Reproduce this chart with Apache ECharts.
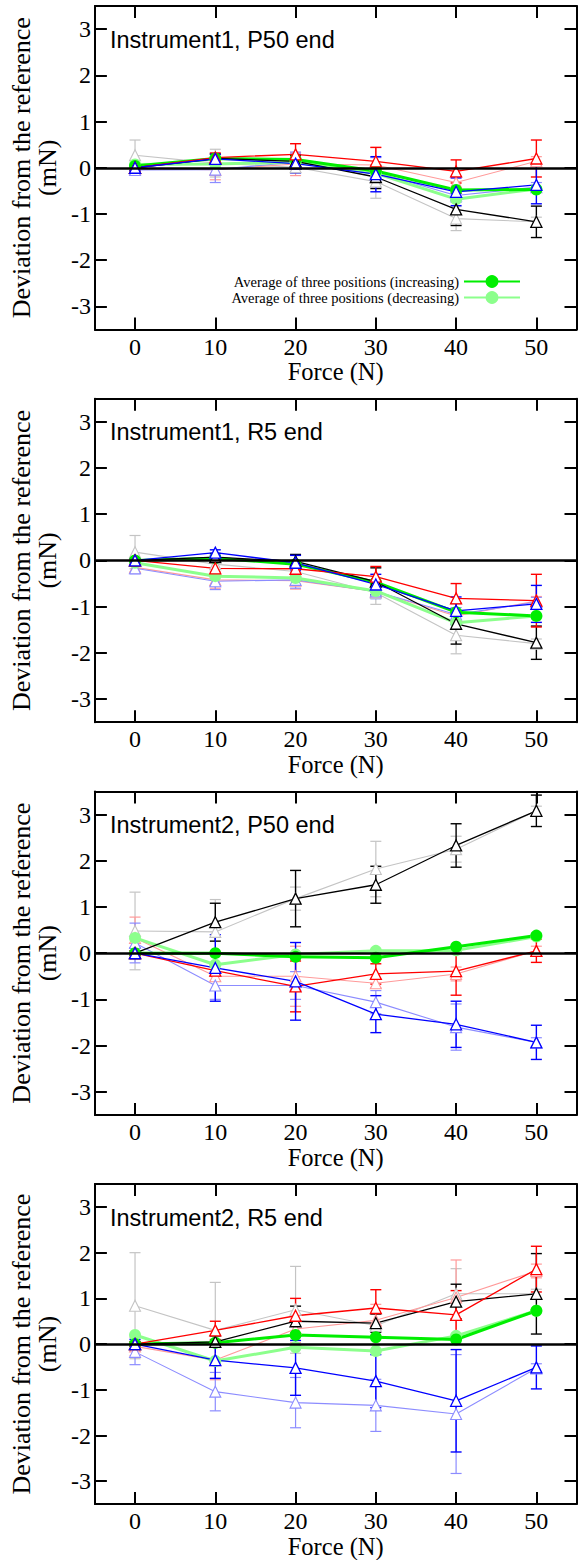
<!DOCTYPE html>
<html><head><meta charset="utf-8">
<script src="https://cdn.jsdelivr.net/npm/echarts@6/dist/echarts.min.js"></script>
<style>html,body{margin:0;padding:0;background:#fff}#c{width:581px;height:1560px}</style>
</head><body><div id="c"></div>
<script>
// ---------------- data ----------------
const forces = [0, 10, 20, 30, 40, 50];
const xTicks = [0, 10, 20, 30, 40, 50];
const yTicks = [-3, -2, -1, 0, 1, 2, 3];
const panelTitles = ['Instrument1, P50 end', 'Instrument1, R5 end', 'Instrument2, P50 end', 'Instrument2, R5 end'];
const legendNames = ['Average of three positions (increasing)', 'Average of three positions (decreasing)'];

// Panel 1: Instrument1, P50 end
const p1BlackUp = [0.00, 0.20, 0.14, -0.20, -0.90, -1.17];
const p1BlackUpErr = [0.06, 0.10, 0.12, 0.25, 0.35, 0.34];
const p1BlackDown = [0.27, 0.10, 0.01, -0.30, -1.10, -1.17];
const p1BlackDownErr = [0.33, 0.30, 0.12, 0.36, 0.26, 0.10];
const p1RedUp = [0.00, 0.22, 0.29, 0.14, -0.08, 0.20];
const p1RedUpErr = [0.05, 0.10, 0.23, 0.30, 0.25, 0.40];
const p1RedDown = [-0.02, -0.04, 0.08, 0.06, -0.32, 0.14];
const p1RedDownErr = [0.08, 0.22, 0.25, 0.38, 0.12, 0.10];
const p1BlueUp = [0.00, 0.19, 0.09, -0.14, -0.52, -0.37];
const p1BlueUpErr = [0.06, 0.10, 0.20, 0.38, 0.30, 0.41];
const p1BlueDown = [-0.05, -0.04, 0.12, -0.10, -0.60, -0.42];
const p1BlueDownErr = [0.08, 0.28, 0.22, 0.32, 0.15, 0.10];
const p1GreenUp = [0.04, 0.20, 0.18, -0.07, -0.48, -0.47];
const p1GreenDown = [0.07, 0.08, 0.12, -0.12, -0.68, -0.46];

// Panel 2: Instrument1, R5 end
const p2BlackUp = [0.00, 0.07, -0.02, -0.46, -1.37, -1.78];
const p2BlackUpErr = [0.05, 0.08, 0.15, 0.30, 0.44, 0.36];
const p2BlackDown = [0.18, -0.08, -0.24, -0.70, -1.62, -1.80];
const p2BlackDownErr = [0.36, 0.10, 0.12, 0.25, 0.40, 0.10];
const p2RedUp = [0.00, -0.17, -0.18, -0.35, -0.82, -0.87];
const p2RedUpErr = [0.05, 0.18, 0.15, 0.22, 0.32, 0.57];
const p2RedDown = [-0.15, -0.42, -0.44, -0.67, -1.20, -0.88];
const p2RedDownErr = [0.10, 0.18, 0.18, 0.15, 0.12, 0.10];
const p2BlueUp = [0.00, 0.17, -0.05, -0.52, -1.09, -0.94];
const p2BlueUpErr = [0.05, 0.06, 0.16, 0.22, 0.30, 0.40];
const p2BlueDown = [-0.17, -0.45, -0.42, -0.67, -1.17, -0.90];
const p2BlueDownErr = [0.12, 0.18, 0.18, 0.16, 0.15, 0.10];
const p2GreenUp = [0.00, 0.05, -0.08, -0.47, -1.12, -1.20];
const p2GreenDown = [-0.05, -0.34, -0.38, -0.66, -1.35, -1.20];

// Panel 3: Instrument2, P50 end
const p3BlackUp = [0.00, 0.67, 1.18, 1.48, 2.33, 3.08];
const p3BlackUpErr = [0.05, 0.41, 0.61, 0.40, 0.47, 0.34];
const p3BlackDown = [0.48, 0.46, 1.18, 1.82, 2.25, 3.08];
const p3BlackDownErr = [0.84, 0.70, 0.25, 0.60, 0.28, 0.10];
const p3RedUp = [0.00, -0.38, -0.72, -0.45, -0.39, 0.05];
const p3RedUpErr = [0.05, 0.12, 0.55, 0.22, 0.52, 0.25];
const p3RedDown = [0.33, -0.50, -0.50, -0.65, -0.45, 0.05];
const p3RedDownErr = [0.45, 0.10, 0.65, 0.10, 0.15, 0.10];
const p3BlueUp = [0.00, -0.32, -0.61, -1.32, -1.54, -1.93];
const p3BlueUpErr = [0.12, 0.72, 0.84, 0.40, 0.50, 0.37];
const p3BlueDown = [0.22, -0.70, -0.70, -1.06, -1.60, -1.93];
const p3BlueDownErr = [0.43, 0.30, 0.30, 0.25, 0.50, 0.10];
const p3GreenUp = [0.00, 0.00, -0.08, -0.10, 0.14, 0.38];
const p3GreenDown = [0.33, -0.25, -0.03, 0.05, 0.06, 0.36];

// Panel 4: Instrument2, R5 end
const p4BlackUp = [0.00, 0.05, 0.50, 0.46, 0.93, 1.10];
const p4BlackUpErr = [0.05, 0.12, 0.33, 0.20, 0.38, 0.88];
const p4BlackDown = [0.84, 0.30, 0.75, 0.40, 1.10, 1.10];
const p4BlackDownErr = [1.16, 1.05, 0.95, 0.25, 0.55, 0.10];
const p4RedUp = [0.00, 0.30, 0.62, 0.79, 0.64, 1.64];
const p4RedUpErr = [0.05, 0.20, 0.38, 0.40, 0.53, 0.50];
const p4RedDown = [-0.05, -0.35, 0.33, 0.52, 1.02, 1.60];
const p4RedDownErr = [0.20, 0.43, 0.30, 0.35, 0.82, 0.15];
const p4BlueUp = [0.00, -0.35, -0.52, -0.81, -1.24, -0.51];
const p4BlueUpErr = [0.10, 0.40, 0.60, 0.58, 1.12, 0.47];
const p4BlueDown = [-0.17, -1.04, -1.28, -1.34, -1.53, -0.53];
const p4BlueDownErr = [0.28, 0.42, 0.55, 0.57, 1.30, 0.10];
const p4GreenUp = [0.00, 0.03, 0.20, 0.15, 0.10, 0.73];
const p4GreenDown = [0.20, -0.37, -0.07, -0.15, 0.18, 0.73];

// ---------------- layout / style ----------------
const C = {
  black: '#000000', grey: '#c4c4c4',
  red: '#ff0000', lred: '#ff9a9a',
  blue: '#0000ff', lblue: '#8c8cff',
  green: '#00ee00', lgreen: '#8cff8c'
};
const GRID_LEFT = 89.5, GRID_RIGHT = 4.5, GRID_TOP0 = 6, GRID_STEP = 392.7, GRID_H = 323.5;
const SERIF = 'Liberation Serif';
const SANS = 'Liberation Sans';

const panels = [
  {bu: p1BlackUp, bue: p1BlackUpErr, bd: p1BlackDown, bde: p1BlackDownErr, ru: p1RedUp, rue: p1RedUpErr, rd: p1RedDown, rde: p1RedDownErr, lu: p1BlueUp, lue: p1BlueUpErr, ld: p1BlueDown, lde: p1BlueDownErr, gu: p1GreenUp, gd: p1GreenDown},
  {bu: p2BlackUp, bue: p2BlackUpErr, bd: p2BlackDown, bde: p2BlackDownErr, ru: p2RedUp, rue: p2RedUpErr, rd: p2RedDown, rde: p2RedDownErr, lu: p2BlueUp, lue: p2BlueUpErr, ld: p2BlueDown, lde: p2BlueDownErr, gu: p2GreenUp, gd: p2GreenDown},
  {bu: p3BlackUp, bue: p3BlackUpErr, bd: p3BlackDown, bde: p3BlackDownErr, ru: p3RedUp, rue: p3RedUpErr, rd: p3RedDown, rde: p3RedDownErr, lu: p3BlueUp, lue: p3BlueUpErr, ld: p3BlueDown, lde: p3BlueDownErr, gu: p3GreenUp, gd: p3GreenDown},
  {bu: p4BlackUp, bue: p4BlackUpErr, bd: p4BlackDown, bde: p4BlackDownErr, ru: p4RedUp, rue: p4RedUpErr, rd: p4RedDown, rde: p4RedDownErr, lu: p4BlueUp, lue: p4BlueUpErr, ld: p4BlueDown, lde: p4BlueDownErr, gu: p4GreenUp, gd: p4GreenDown}
];

const grids = [], xAxes = [], yAxes = [], titles = [], series = [];

function errSeries(i, vals, errs, color, width) {
  return {
    type: 'custom', xAxisIndex: 2 * i, yAxisIndex: 2 * i, silent: true,
    data: forces.map((f, k) => [f, vals[k] - errs[k], vals[k] + errs[k]]),
    encode: {x: 0, y: [1, 2]},
    renderItem: function (params, api) {
      const x = api.value(0);
      const lo = api.coord([x, api.value(1)]);
      const hi = api.coord([x, api.value(2)]);
      const cw = 5.5;
      const style = {stroke: color, lineWidth: width, fill: null};
      return {type: 'group', children: [
        {type: 'line', shape: {x1: lo[0], y1: lo[1], x2: hi[0], y2: hi[1]}, style: style},
        {type: 'line', shape: {x1: lo[0] - cw, y1: lo[1], x2: lo[0] + cw, y2: lo[1]}, style: style},
        {type: 'line', shape: {x1: hi[0] - cw, y1: hi[1], x2: hi[0] + cw, y2: hi[1]}, style: style}
      ]};
    }
  };
}
function triSeries(i, vals, color, width, extra) {
  return Object.assign({
    type: 'line', xAxisIndex: 2 * i, yAxisIndex: 2 * i, silent: true,
    data: forces.map((f, k) => [f, vals[k]]),
    symbol: 'triangle', symbolSize: 11, showAllSymbol: true,
    itemStyle: {color: '#ffffff', borderColor: color, borderWidth: width},
    lineStyle: {color: color, width: width},
    animation: false
  }, extra || {});
}
function circSeries(i, vals, color, name) {
  return {
    type: 'line', name: name, xAxisIndex: 2 * i, yAxisIndex: 2 * i, silent: true,
    data: forces.map((f, k) => [f, vals[k]]),
    symbol: 'circle', symbolSize: 12,
    itemStyle: {color: color, borderWidth: 0},
    lineStyle: {color: color, width: 3},
    animation: false
  };
}

panels.forEach((p, i) => {
  const top = GRID_TOP0 + GRID_STEP * i;
  grids.push({left: GRID_LEFT, right: GRID_RIGHT, top: top, height: GRID_H, containLabel: false});
  const axisLine = {show: true, onZero: false, lineStyle: {color: '#000', width: 2}};
  const tick = (vals) => ({show: true, inside: true, length: 12, lineStyle: {color: '#000', width: 2}, customValues: vals});
  xAxes.push({
    type: 'value', gridIndex: i, min: -5, max: 55, position: 'bottom',
    axisLine: axisLine, axisTick: tick(xTicks), splitLine: {show: false},
    axisLabel: {customValues: xTicks, fontFamily: SERIF, fontSize: 24, color: '#000', margin: 5},
    name: 'Force (N)', nameLocation: 'middle', nameGap: 28,
    nameTextStyle: {fontFamily: SERIF, fontSize: 24.5, color: '#000'}
  });
  xAxes.push({
    type: 'value', gridIndex: i, min: -5, max: 55, position: 'top',
    axisLine: axisLine, axisTick: tick(xTicks), splitLine: {show: false},
    axisLabel: {show: false}
  });
  yAxes.push({
    type: 'value', gridIndex: i, min: -3.5, max: 3.5, position: 'left',
    axisLine: axisLine, axisTick: tick(yTicks), splitLine: {show: false},
    axisLabel: {customValues: yTicks, fontFamily: SERIF, fontSize: 24, color: '#000', margin: 4},
    name: 'Deviation from the reference\n(mN)', nameLocation: 'middle', nameRotate: 90, nameGap: 26,
    nameTextStyle: {fontFamily: SERIF, fontSize: 26, lineHeight: 26, color: '#000', align: 'center'}
  });
  yAxes.push({
    type: 'value', gridIndex: i, min: -3.5, max: 3.5, position: 'right',
    axisLine: axisLine, axisTick: tick(yTicks), splitLine: {show: false},
    axisLabel: {show: false}
  });
  titles.push({
    text: panelTitles[i], left: 110, top: top + 21.5, padding: 0,
    textStyle: {fontFamily: SANS, fontSize: 23.5, fontWeight: 'normal', color: '#000'}
  });

  // decreasing (light) sets
  series.push(errSeries(i, p.bd, p.bde, C.grey, 1.2));
  series.push(triSeries(i, p.bd, C.grey, 1.1, {
    markLine: {silent: true, symbol: 'none', label: {show: false},
      lineStyle: {color: '#000', width: 2.5, type: 'solid'}, data: [{yAxis: 0}], animation: false}
  }));
  series.push(errSeries(i, p.rd, p.rde, C.lred, 1.2));
  series.push(triSeries(i, p.rd, C.lred, 1.1));
  series.push(errSeries(i, p.ld, p.lde, C.lblue, 1.2));
  series.push(triSeries(i, p.ld, C.lblue, 1.1));
  // averages
  series.push(circSeries(i, p.gd, C.lgreen, legendNames[1]));
  series.push(circSeries(i, p.gu, C.green, legendNames[0]));
  // increasing (dark) sets
  series.push(errSeries(i, p.bu, p.bue, C.black, 1.4));
  series.push(triSeries(i, p.bu, C.black, 1.3));
  series.push(errSeries(i, p.ru, p.rue, C.red, 1.4));
  series.push(triSeries(i, p.ru, C.red, 1.3));
  series.push(errSeries(i, p.lu, p.lue, C.blue, 1.4));
  series.push(triSeries(i, p.lu, C.blue, 1.3));
});

const option = {
  animation: false,
  backgroundColor: '#ffffff',
  title: titles,
  legend: {
    data: legendNames, orient: 'vertical', align: 'right',
    right: 60, top: 273.5, padding: 0, itemGap: 0,
    itemWidth: 56, itemHeight: 16, selectedMode: false,
    textStyle: {fontFamily: SERIF, fontSize: 14.5, lineHeight: 16, color: '#000'}
  },
  grid: grids, xAxis: xAxes, yAxis: yAxes, series: series
};

const chart = echarts.init(document.getElementById('c'), null, {renderer: 'svg', width: 581, height: 1560});
chart.setOption(option);
</script>
</body></html>
